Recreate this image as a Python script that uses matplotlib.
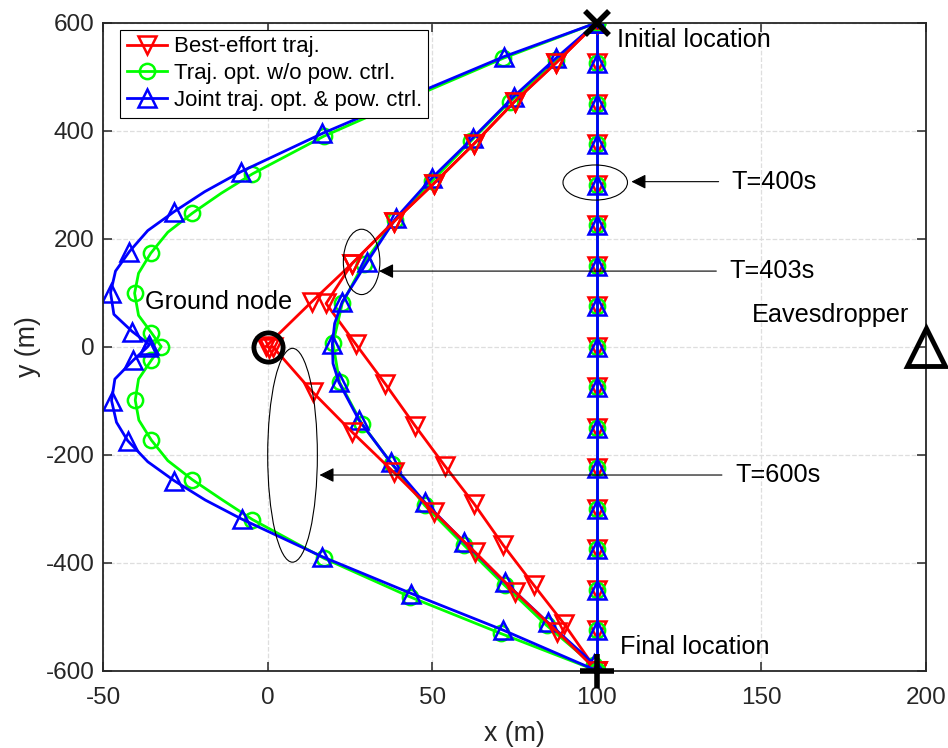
import matplotlib
matplotlib.use("Agg")
import matplotlib.pyplot as plt
from matplotlib.patches import Ellipse

plt.rcParams['font.family'] = ['Liberation Sans', 'DejaVu Sans']
plt.rcParams['axes.unicode_minus'] = False

# T = 400 s: straight flight along x = 100 (same for all three schemes)
t400_x = [100, 100, 100, 100, 100, 100, 100, 100, 100, 100, 100, 100, 100, 100, 100, 100, 100]
t400_y = [600, 525, 450, 375, 300, 225, 150, 75, 0, -75, -150, -225, -300, -375, -450, -525, -600]

# T = 403 s
be403_x = [100, 87.5, 75, 62.7, 50.4, 38.2, 25.6, 17.7, 26.7, 35.7, 44.7, 53.7, 62.7, 71.6, 80.9, 90, 100]
be403_y = [600, 525, 454, 376, 302, 231, 154, 80, 5, -69, -146, -220, -291, -368, -442, -513, -600]
to403_x = [100, 87.5, 73.6, 61.6, 49.8, 38.5, 29.1, 22.6, 19.8, 21.8, 28.6, 37.8, 47.7, 59.7, 72, 84.7, 99, 100]
to403_y = [600, 530, 454, 380, 306, 234, 154, 80, 6, -66, -143, -218, -294, -368, -442, -516, -590, -600]
jt403_x = [100, 87.5, 74.7, 62.2, 49.8, 38.9, 30.2, 22.6, 20.3, 19.6, 19.8, 21.6, 27.7, 37.3, 47.7, 59.7, 72, 85, 99, 100]
jt403_y = [600, 534, 463, 386, 312, 238, 157, 83, 43, 5, -31, -66, -136, -214, -288, -362, -436, -510, -587, -600]
jt403_mk = [0, 1, 2, 3, 4, 5, 6, 7, 9, 11, 12, 13, 14, 15, 16, 17, 18, 19]

# T = 600 s
be600_x = [100, 87.5, 75, 62.7, 50.4, 38.2, 25.6, 13.3, -0.5, 0.5, 1.5, 13.6, 25.6, 38.2, 50.4, 62.9, 75.1, 88, 100]
be600_y = [600, 525, 454, 376, 302, 231, 154, 83, 1, -2, 0, -84, -158, -232, -306, -380, -454, -528, -600]
to600_x = [100, 71.5, 44, 17.1, -4.7, -14.2, -23, -30.4, -35.6, -39.3, -40.5, -39.3, -35.4, -32.4,
           -35.4, -39.3, -40.3, -39.2, -35.4, -30.4, -23, -14, -4.7, 17.1, 43.1, 70.8, 100]
to600_y = [600, 534, 462, 390, 320, 284, 247, 212, 173, 136, 99, 58, 26, 0,
           -25, -60, -99, -136, -173, -211, -246, -283, -320, -392, -463, -531, -600]
to600_mk = [0, 1, 2, 3, 4, 6, 8, 10, 12, 13, 14, 16, 18, 20, 22, 23, 24, 25, 26]
jt600_x = [100, 71.7, 44, 16.6, -8.2, -19.2, -28.5, -36.5, -42.1, -46.3, -47.8, -46.8, -41.2, -36, -36.5,
           -40.9, -46.5, -47.5, -46, -42.6, -36.5, -28.5, -19, -8, 16.6, 43.6, 71.6, 100]
jt600_y = [600, 537, 466, 395, 324, 287, 250, 215, 176, 140, 100, 60, 28, 4, 0,
           -25, -60, -100, -140, -174, -213, -248, -284, -319, -389, -457, -525, -600]
jt600_mk = [0, 1, 2, 3, 4, 6, 8, 10, 12, 13, 14, 15, 17, 19, 21, 23, 24, 25, 26, 27]

ground = (0, 0)
eve = (200, 0)
start = (100, 600)
final = (100, -600)

fig = plt.figure(figsize=(9.48, 7.48), dpi=100)
ax = fig.add_axes([0.109, 0.1033, 0.8677, 0.8664])

red, green, blue = '#ff0000', '#00ff00', '#0000ff'
lw = 2.0
be = dict(color=red, marker='v', ms=12.5, mfc='none', mew=1.8, lw=lw)
to = dict(color=green, marker='o', ms=11, mfc='none', mew=1.8, lw=lw)
jt = dict(color=blue, marker='^', ms=12.5, mfc='none', mew=1.8, lw=lw)

l1, = ax.plot(t400_x, t400_y, label='Best-effort traj.', **be)
l2, = ax.plot(t400_x, t400_y, label='Traj. opt. w/o pow. ctrl.', **to)
l3, = ax.plot(t400_x, t400_y, label='Joint traj. opt. & pow. ctrl.', **jt)
ax.plot(be403_x, be403_y, **be)
ax.plot(to403_x, to403_y, **to)
ax.plot(jt403_x, jt403_y, markevery=jt403_mk, **jt)
ax.plot(be600_x, be600_y, **be)
ax.plot(to600_x, to600_y, markevery=to600_mk, **to)
ax.plot(jt600_x, jt600_y, markevery=jt600_mk, **jt)

ax.plot(*ground, 'o', color='k', mfc='none', ms=21, mew=3.5, zorder=5)
ax.plot(*eve, '^', color='k', mfc='none', ms=28, mew=3.5, clip_on=False, zorder=5)
ax.plot(*start, 'x', color='k', ms=17, mew=4, clip_on=False, zorder=5)
ax.plot(*final, '+', color='k', ms=24, mew=4, clip_on=False, zorder=5)

fs = 18.2
ax.text(106, 567, 'Initial location', fontsize=fs, va='center')
ax.text(107, -556, 'Final location', fontsize=fs, va='center')
ax.text(147.2, 59, 'Eavesdropper', fontsize=fs, va='center')
ax.text(-37.2, 83, 'Ground node', fontsize=fs, va='center')

# ellipses marking each group of trajectories
for cx, cy, w, h in [(99.5, 304, 19.6, 65), (28.5, 157, 11.1, 121), (7.5, -201, 15.1, 396)]:
    ax.add_patch(Ellipse((cx, cy), w, h, fill=False, ec='k', lw=0.8, zorder=6))

arrows = [('T=400s', (110.5, 305.6), (137, 305.6)),
          ('T=403s', (33.8, 140), (136.3, 140)),
          ('T=600s', (15.7, -237.6), (138, -237.6))]
for lab, tip, tail in arrows:
    ax.annotate('', xy=tip, xytext=tail,
                arrowprops=dict(arrowstyle='-|>', color='k', lw=0.8,
                                mutation_scale=22, shrinkA=0, shrinkB=0))
    ax.text(tail[0] + 4, tail[1], lab, fontsize=fs, va='center')

ax.set_xlim(-50, 200)
ax.set_ylim(-600, 600)
ax.set_xticks([-50, 0, 50, 100, 150, 200])
ax.set_yticks([-600, -400, -200, 0, 200, 400, 600])
ax.grid(True, ls='--', color='#dedede', lw=0.9)
ax.set_axisbelow(True)
ax.tick_params(direction='in', length=6.5, width=1.1, top=True, right=True,
               labelsize=17.5, colors='#262626')
ax.tick_params(axis='x', pad=12)
ax.tick_params(axis='y', pad=6.5)
for s in ax.spines.values():
    s.set_color('#262626')
    s.set_linewidth(1.3)
ax.set_xlabel('x (m)', fontsize=19.3, color='#262626', labelpad=8)
ax.set_ylabel('y (m)', fontsize=19.3, color='#262626', labelpad=3)

leg = ax.legend(handles=[l1, l2, l3], loc='upper left', bbox_to_anchor=(0.0205, 0.989),
                fontsize=16, fancybox=False, framealpha=1, edgecolor='k',
                borderpad=0.3, labelspacing=0.26, handlelength=1.8,
                handletextpad=0.3, borderaxespad=0)
leg.get_frame().set_linewidth(0.8)

fig.savefig('out.png', dpi=100)
